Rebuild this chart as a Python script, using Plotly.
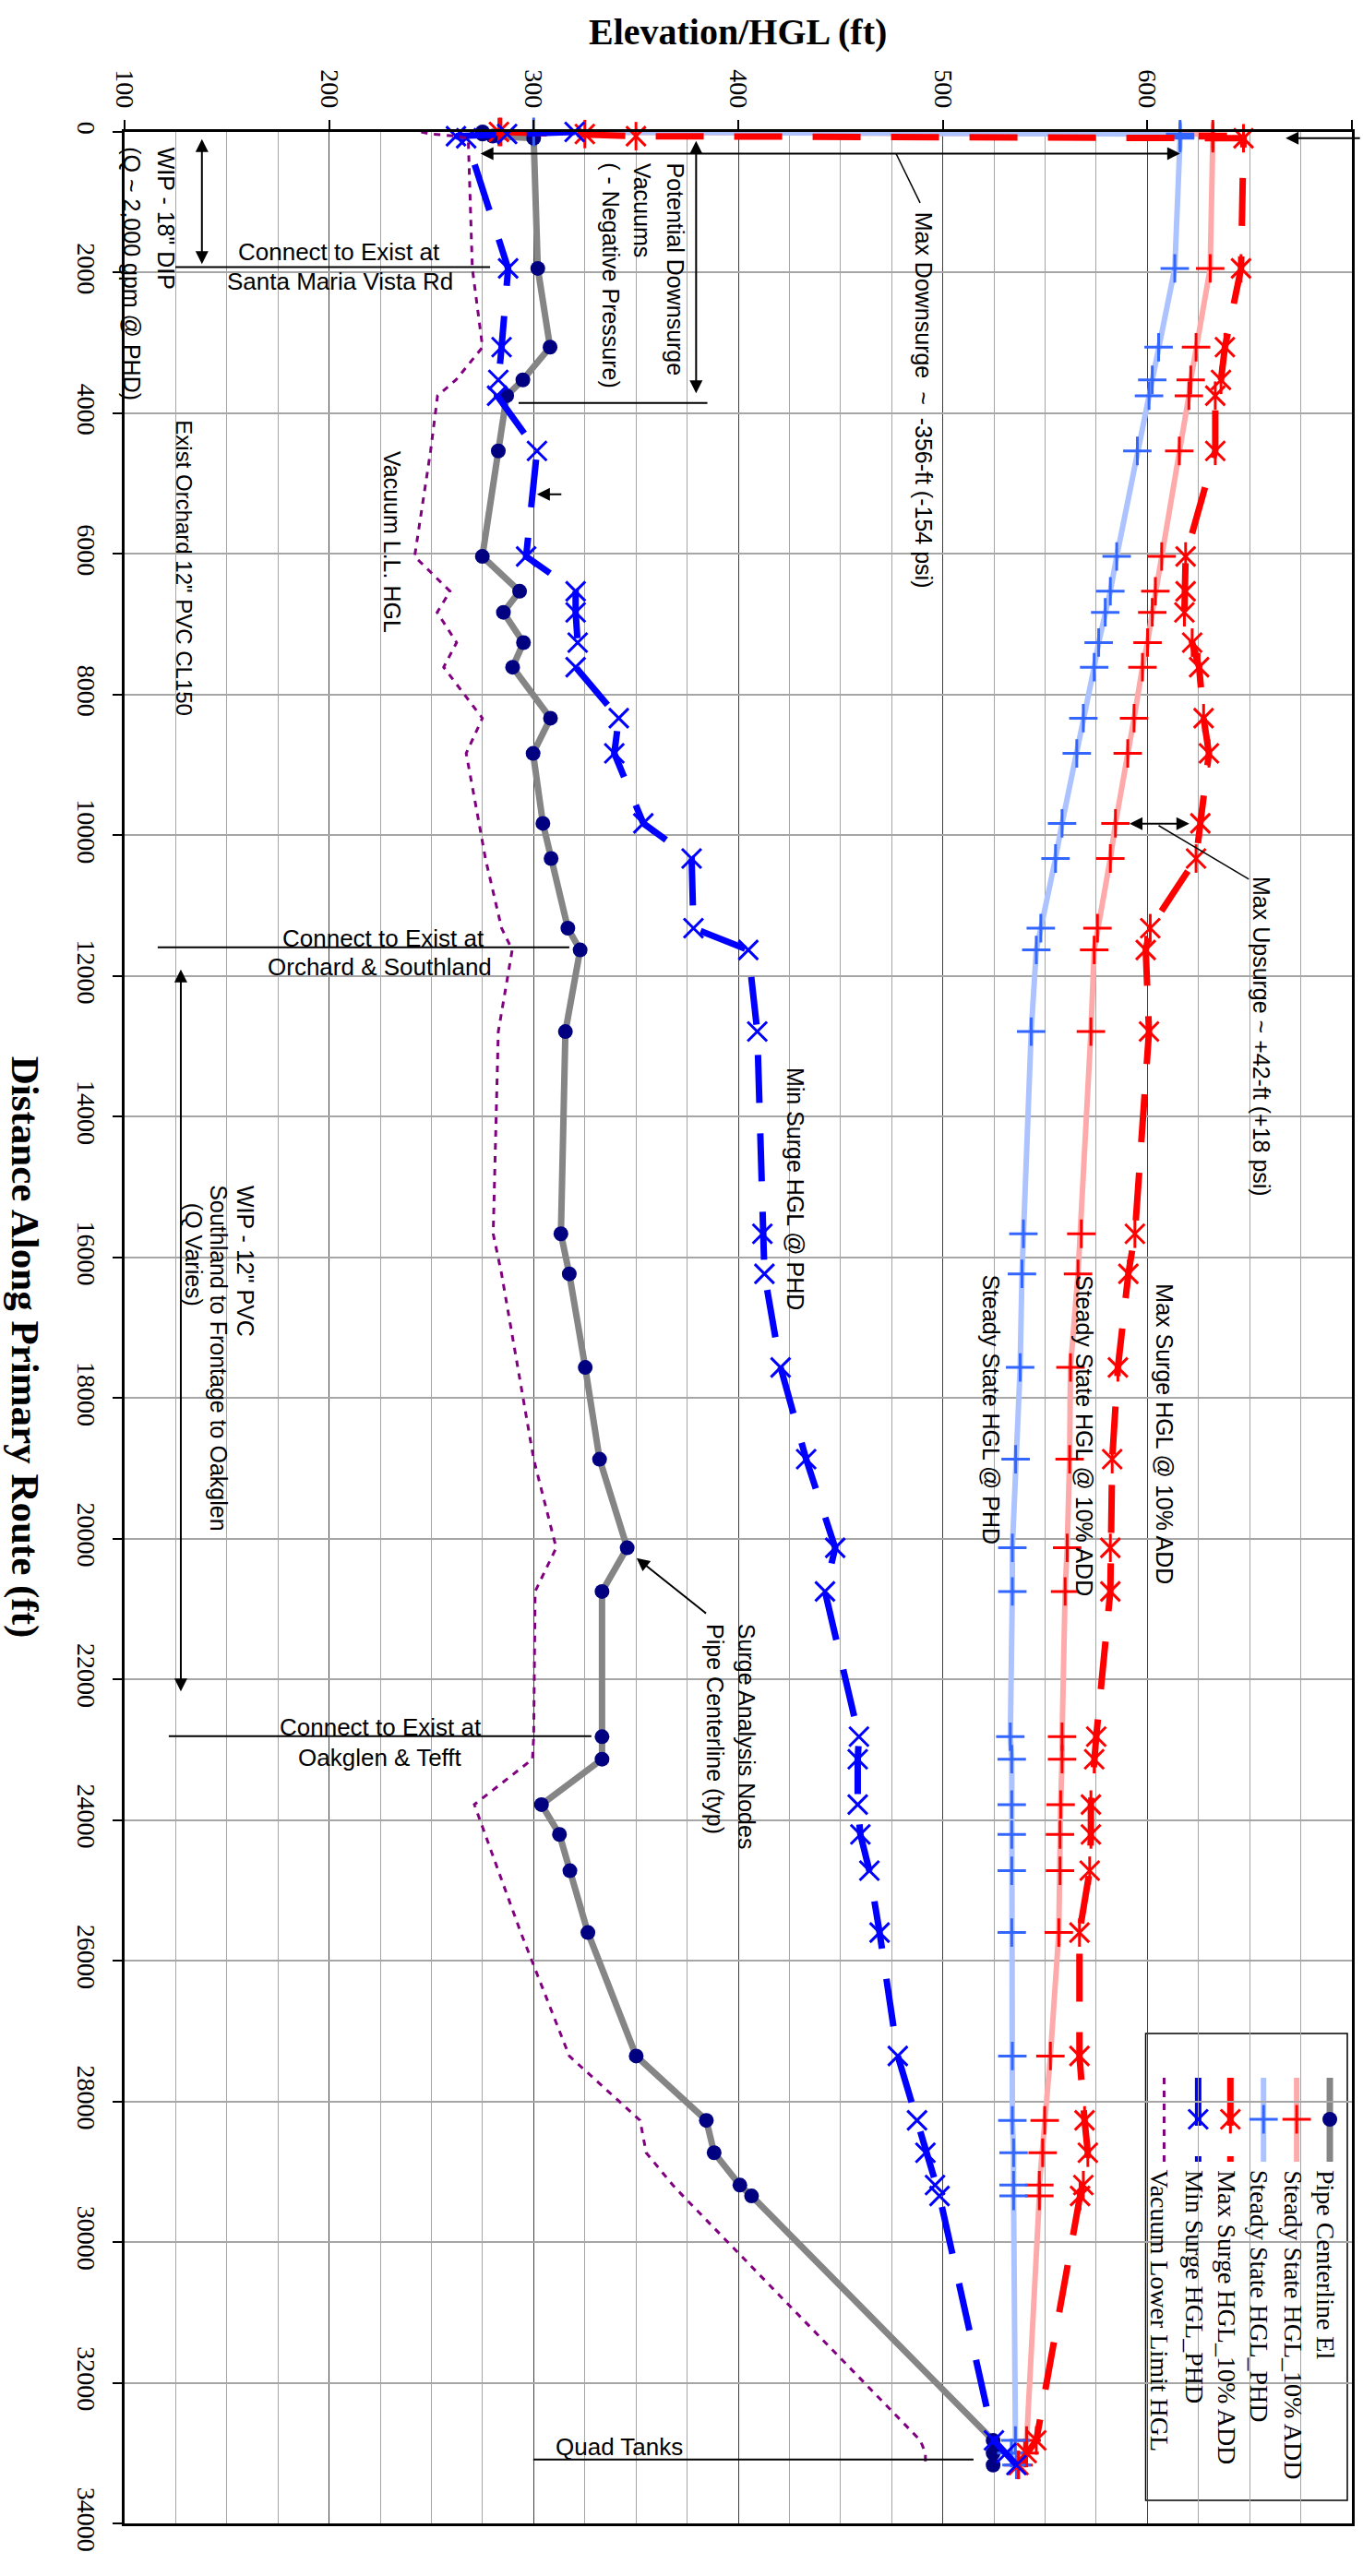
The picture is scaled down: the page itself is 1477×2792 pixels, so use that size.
import plotly.graph_objects as go

# ---------------- data (distance along route in ft, elevations / HGL in ft) ----------------
NODE_DIST = [0, 30, 60, 90, 1940, 3060, 3525, 3750, 4535, 6035, 6530, 6830, 7260,
             7610, 8335, 8835, 9830, 10330, 11320, 11630, 12790, 15665, 16235,
             17565, 18870, 20130, 20750, 22815, 23135, 23780, 24205, 24720, 25600,
             27355, 28270, 28730, 29190, 29345, 32820, 33000, 33170]

PIPE_EL = [275, 275, 280, 300, 302, 308, 294.7, 286.8, 282.7, 274.9, 293.1, 285.2, 295,
           289.7, 308.2, 299.7, 304.5, 308.5, 316.7, 322.7, 315.5, 313.3, 317.4,
           325.2, 332.2, 345.7, 333.4, 333.4, 333.4, 303.8, 312.6, 317.7, 326.5,
           350.1, 384.4, 388.2, 400.8, 406.5, 524.6, 524.6, 524.6]

SS_HGL_10ADD = [284, 632, 632, 632, 630.7, 623.8, 621.2, 620.3, 615.6, 607, 603.9, 602.4,
                600.1, 597.6, 593.5, 590.4, 584.4, 581.9, 575.6, 574, 572.4, 567.7,
                566.1, 562.4, 562, 560.8, 559.8, 558.3, 558.3, 557.6, 557.3, 557.3,
                556.7, 552.6, 549.8, 548.8, 547.2, 547.2, 541, 540, 537]

SS_HGL_PHD = [300, 616, 616, 616, 613.4, 605.5, 602.4, 600.8, 595.1, 585, 581.9, 579.4,
              576.2, 574, 568.7, 565.5, 558.3, 555.1, 547.9, 545.7, 543.2, 539.4,
              538.7, 537.8, 535.6, 534, 534, 533, 533.7, 533.7, 533.7, 533.7, 533.7,
              534, 534, 534.6, 534.6, 534.6, 535.5, 533.5, 536]

MAX_SURGE_10ADD = [283, 325, 350, 647, 645.8, 637.9, 636, 633.2, 633.2, 618.7, 618.7,
                   618.1, 621.9, 625.3, 627.5, 630.1, 625.9, 623.8, 601.4, 599.2, 600.8,
                   593.9, 590.7, 585.6, 582.8, 581.9, 581.9, 575, 574, 572.4, 572.4,
                   571.8, 566.8, 566.8, 569.3, 570.9, 568.7, 567.1, 545.7, 541, 537]

MIN_SURGE_PHD = [320, 287, 262, 267, 287.5, 284.3, 282.7, 282.1, 301.6, 296.3, 320.5,
                 320.5, 321.5, 320.5, 341.6, 339.4, 353.6, 377.2, 378.1, 404.9, 409.3,
                 411.8, 412.8, 420.7, 433.2, 447.4, 442.4, 459, 458.4, 458.4, 459.7,
                 464.1, 469.1, 478, 487.4, 491.5, 496.2, 498.4, 525, 531, 536]

VACUUM_LL_HGL = [245, 250, 262, 268, 270, 275, 262, 253, 249.6, 241.8, 259.1, 252.8,
                 262.3, 256, 274.9, 267, 273.3, 276.4, 284.3, 289.5, 282.7, 280.2,
                 284.3, 292.2, 300, 311, 300.7, 300, 299.4, 271, 276.4, 282.7, 293.7,
                 317.4, 352, 355, 368, 373, 489, 491.5, 491.5]

ELEV_RANGE = [100, 700]
DIST_RANGE = [34000, 0]

SERIES_NAMES = ["Pipe Centerline El", "Steady State HGL_10% ADD", "Steady State HGL_PHD",
                "Max Surge HGL_10% ADD", "Min Surge HGL_PHD", "Vacuum Lower Limit HGL"]

# ---------------- page layout ----------------
W, H = 1477, 2792
M_L, M_R, M_T, M_B = 135, 9, 143, 57
PW, PH = W - M_L - M_R, H - M_T - M_B

SANS = "Liberation Sans, Arial, sans-serif"
SERIF = "Liberation Serif, Times New Roman, serif"


def paper_x(px):
    return (px - M_L) / PW


def paper_y(py):
    return 1 - (py - M_T) / PH


def data_xy(px, py):
    ex = ELEV_RANGE[0] + (px - M_L) / PW * (ELEV_RANGE[1] - ELEV_RANGE[0])
    dy = (py - M_T) / PH * DIST_RANGE[0]
    return ex, dy


STYLES = {
    "pipe": dict(line=dict(color="#858585", width=7),
                 marker=dict(symbol="circle", size=16, color="#000080")),
    "ss10": dict(line=dict(color="#FFAAAA", width=6),
                 marker=dict(symbol="cross-thin", size=22, color="#FF0000",
                             line=dict(color="#FF0000", width=3))),
    "ssphd": dict(line=dict(color="#ADC3FF", width=6),
                  marker=dict(symbol="cross-thin", size=22, color="#3366FF",
                              line=dict(color="#3366FF", width=3))),
    "max": dict(line=dict(color="#FF0000", width=7, dash="52px,33px"),
                marker=dict(symbol="x-thin", size=21, color="#FF0000",
                            line=dict(color="#FF0000", width=3))),
    "min": dict(line=dict(color="#0000FF", width=7, dash="52px,33px"),
                marker=dict(symbol="x-thin", size=21, color="#0000FF",
                            line=dict(color="#0000FF", width=3))),
    "vac": dict(line=dict(color="#800080", width=3, dash="7px,7px")),
}
STAR_BAR = dict(symbol="line-ns", size=22, color="#FF0000", line=dict(color="#FF0000", width=3))

fig = go.Figure()

series = [("pipe", PIPE_EL), ("ss10", SS_HGL_10ADD), ("ssphd", SS_HGL_PHD),
          ("max", MAX_SURGE_10ADD), ("min", MIN_SURGE_PHD), ("vac", VACUUM_LL_HGL)]
for (key, vals), name in zip(series, SERIES_NAMES):
    st = STYLES[key]
    fig.add_trace(go.Scatter(
        x=vals, y=NODE_DIST, name=name,
        mode="lines+markers" if "marker" in st else "lines",
        line=st["line"], marker=st.get("marker"), cliponaxis=False))
    if key == "max":
        # vertical bar completing the star marker
        fig.add_trace(go.Scatter(x=vals, y=NODE_DIST, mode="markers", marker=STAR_BAR,
                                 cliponaxis=False, hoverinfo="skip"))

annotations = []
shapes = []


def text(t, x, y, angle=90, size=25, xanchor="center", yanchor="top", family=SANS,
         xref="x", yref="y"):
    annotations.append(dict(text=t, x=x, y=y, xref=xref, yref=yref, textangle=angle,
                            showarrow=False, xanchor=xanchor, yanchor=yanchor,
                            font=dict(family=family, size=size, color="black")))


def arrow(x, y, ax, ay, both=False):
    annotations.append(dict(text="", x=x, y=y, ax=ax, ay=ay, xref="x", yref="y",
                            axref="x", ayref="y", showarrow=True, arrowhead=2,
                            startarrowhead=2, arrowsize=1.4, arrowwidth=2,
                            arrowcolor="black", arrowside="end+start" if both else "end"))


def seg(x0, y0, x1, y1, width=2):
    shapes.append(dict(type="line", x0=x0, y0=y0, x1=x1, y1=y1, xref="x", yref="y",
                       line=dict(color="black", width=width)))


# rotated callouts
text('WIP - 18" DIP', 120.3, 193)
text("(Q ~ 2,000 gpm @ PHD)", 103.6, 193)
text('Exist Orchard 12" PVC CL150', 129.3, 4076, size=24)
text("Potential Downsurge", 369.2, 416)
text("Vacuums", 353.0, 416)
text("( - Negative Pressure)", 337.7, 416)
text("Max Downsurge\u00a0\u00a0~\u00a0\u00a0-356-ft (-154 psi)", 490.7, 1111)
text("Vacuum L.L. HGL", 230.5, 4509)
text("Max Upsurge ~ +42-ft (+18 psi)", 655.9, 10556)
text("Min Surge HGL @ PHD", 427.7, 13272)
text("Steady State HGL @ PHD", 523.5, 16222)
text("Steady State HGL @ 10% ADD", 569.5, 16222)
text("Max Surge HGL @ 10% ADD", 608.6, 16354)
text("Surge Analysis Nodes", 403.8, 21181)
text("Pipe Centerline (typ)", 389.0, 21181)
text('WIP - 12" PVC', 159.4, 14948)
text("Southland to Frontage to Oakglen", 145.9, 14948)
text("(Q Varies)", 133.8, 15200)

# horizontal callouts
text("Connect to Exist at", 204.9, 1701, angle=0, size=26, yanchor="middle")
text("Santa Maria Vista Rd", 205.3, 2121, angle=0, size=26, yanchor="middle")
text("Connect to Exist at", 226.5, 11461, angle=0, size=26, yanchor="middle")
text("Orchard & Southland", 224.7, 11868, angle=0, size=26, yanchor="middle")
text("Connect to Exist at", 225.1, 22676, angle=0, size=26, yanchor="middle")
text("Oakglen & Tefft", 225.1, 23109, angle=0, size=26, yanchor="middle")
text("Quad Tanks", 341.7, 32911, angle=0, size=26, yanchor="middle")

# leader / marker lines
seg(124.8, 1923, 278.7, 1923)
seg(292.6, 3853, 384.9, 3853)
seg(488.9, 1008, 477.2, 311, width=1.5)
seg(649.6, 10622, 605.5, 9861, width=1.5)
seg(116.2, 11592, 317.4, 11592)
seg(121.6, 22807, 328.2, 22807)
seg(299.8, 33093, 515.0, 33093)

# dimension arrows
arrow(137.8, 101, 137.8, 1898, both=True)
arrow(379.4, 127, 379.4, 3735, both=True)
arrow(274.0, 307, 616.7, 307, both=True)
arrow(591.3, 9835, 621.2, 9835, both=True)
arrow(127.5, 11907, 127.5, 22192, both=True)
arrow(301.6, 5151, 314.2, 5151)
arrow(350.3, 20277, 384.9, 21077)
annotations.append(dict(text="", x=667.6, y=88, xref="x", yref="y", ax=82, ay=0,
                        showarrow=True, arrowhead=2, arrowsize=1.4, arrowwidth=2,
                        arrowcolor="black"))

# axis titles
text("<b>Elevation/HGL (ft)</b>", paper_x(801), paper_y(35), angle=0, size=40,
     yanchor="middle", family=SERIF, xref="paper", yref="paper")
text("<b>Distance Along Primary Route (ft)</b>", paper_x(27), paper_y(1460), angle=90,
     size=43, yanchor="middle", family=SERIF, xref="paper", yref="paper")

# ---------------- legend box (rotated) ----------------
LEG_BOX = (1244, 2204, 1463, 2710)
LEG_X = [1444, 1408, 1372, 1336, 1301, 1264]
shapes.append(dict(type="rect", xref="paper", yref="paper",
                   x0=paper_x(LEG_BOX[0]), x1=paper_x(LEG_BOX[2]),
                   y0=paper_y(LEG_BOX[3]), y1=paper_y(LEG_BOX[1]),
                   fillcolor="white", line=dict(color="black", width=1.5), layer="between"))
for (key, _), name, lx in zip(series, SERIES_NAMES, LEG_X):
    st = STYLES[key]
    shapes.append(dict(type="line", xref="paper", yref="paper",
                       x0=paper_x(lx), x1=paper_x(lx), y0=paper_y(2252), y1=paper_y(2343),
                       line=dict(color=st["line"]["color"], width=st["line"]["width"],
                                 dash=st["line"].get("dash", "solid")), layer="between"))
    if "marker" in st:
        mx, my = data_xy(lx, 2297)
        fig.add_trace(go.Scatter(x=[mx], y=[my], mode="markers", marker=st["marker"],
                                 cliponaxis=False, hoverinfo="skip"))
        if key == "max":
            fig.add_trace(go.Scatter(x=[mx], y=[my], mode="markers", marker=STAR_BAR,
                                     cliponaxis=False, hoverinfo="skip"))
    text(name, paper_x(lx - 4), paper_y(2350), angle=90, size=28, family=SERIF,
         xref="paper", yref="paper")

fig.update_layout(
    width=W, height=H, margin=dict(l=M_L, r=M_R, t=M_T, b=M_B),
    paper_bgcolor="white", plot_bgcolor="white", showlegend=False,
    annotations=annotations, shapes=shapes,
    xaxis=dict(range=ELEV_RANGE, side="top", tick0=100, dtick=100, tickangle=90,
               tickformat="d",
               showgrid=True, gridcolor="#3F3F3F", gridwidth=1,
               minor=dict(dtick=25, showgrid=True, gridcolor="#A6A6A6", gridwidth=1),
               ticks="outside", ticklen=10, tickwidth=2, tickcolor="black",
               showline=True, linecolor="black", linewidth=3, mirror=True,
               zeroline=False, ticklabelstandoff=3,
               tickfont=dict(family=SERIF, size=28, color="black")),
    yaxis=dict(range=DIST_RANGE, tick0=0, dtick=2000, tickangle=90, tickformat="d",
               showgrid=True, gridcolor="#A6A6A6", gridwidth=2,
               ticks="outside", ticklen=10, tickwidth=2, tickcolor="black",
               showline=True, linecolor="black", linewidth=3, mirror=True,
               zeroline=False, ticklabelstandoff=4,
               tickfont=dict(family=SERIF, size=28, color="black")),
)

fig.write_html("out.html")
